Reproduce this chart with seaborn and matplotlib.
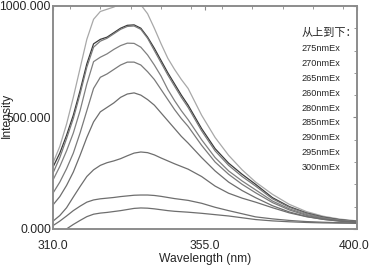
import matplotlib
matplotlib.use("Agg")
import matplotlib.pyplot as plt
import matplotlib.transforms as mtransforms
import seaborn as sns
import pandas as pd
import numpy as np
from matplotlib.ticker import MultipleLocator

# wavelength grid (nm)
wavelength = [310, 312, 314, 316, 318, 320, 322, 324, 326, 328, 330, 332,
              334, 336, 338, 340, 342, 344, 346, 348, 350, 354, 358, 362,
              366, 370, 375, 380, 385, 390, 395, 400]

# emission intensity for each excitation wavelength
ex275 = [296, 370, 470, 590, 720, 850, 940, 975, 985, 995, 1010, 1025,
         1025, 1005, 965, 900, 830, 765, 715, 670, 630, 510, 410, 330,
         265, 210, 155, 110, 78, 57, 44, 36]
ex270 = [278, 340, 420, 510, 620, 740, 830, 850, 860, 880, 900, 913,
         915, 900, 860, 810, 755, 700, 650, 600, 555, 450, 360, 295,
         245, 200, 140, 100, 72, 53, 41, 34]
ex265 = [251, 320, 405, 495, 605, 725, 815, 842, 855, 875, 895, 908,
         910, 895, 855, 800, 745, 690, 640, 590, 545, 440, 350, 285,
         235, 192, 135, 97, 70, 51, 40, 33]
ex260 = [220, 280, 350, 430, 530, 650, 750, 770, 785, 805, 822, 833,
         832, 815, 780, 735, 685, 625, 575, 530, 490, 400, 320, 260,
         215, 175, 125, 90, 65, 48, 38, 32]
ex280 = [161, 210, 270, 340, 430, 530, 630, 680, 695, 715, 735, 748,
         748, 735, 705, 670, 625, 580, 535, 495, 460, 375, 300, 245,
         200, 162, 118, 85, 61, 46, 37, 31]
ex285 = [108, 145, 195, 255, 330, 410, 480, 525, 545, 565, 590, 605,
         610, 600, 580, 555, 520, 485, 450, 415, 385, 320, 260, 210,
         172, 140, 104, 76, 56, 43, 35, 30]
ex290 = [35, 60, 95, 143, 190, 235, 265, 285, 297, 305, 315, 328,
         340, 345, 342, 332, 318, 305, 292, 280, 268, 235, 192, 160,
         138, 120, 95, 72, 55, 43, 35, 30]
ex295 = [15, 35, 58, 82, 102, 120, 130, 135, 138, 141, 145, 148,
         151, 152, 152, 150, 146, 141, 136, 132, 128, 115, 97, 82,
         68, 54, 45, 38, 33, 30, 28, 27]
ex300 = [np.nan, -15, 0, 20, 38, 55, 66, 71, 74, 78, 82, 87,
         92, 94, 93, 90, 86, 82, 79, 77, 75, 70, 64, 58,
         50, 42, 36, 32, 29, 27, 26, 25]

series = {"275nmEx": ex275, "270nmEx": ex270, "265nmEx": ex265,
          "260nmEx": ex260, "280nmEx": ex280, "285nmEx": ex285,
          "290nmEx": ex290, "295nmEx": ex295, "300nmEx": ex300}
order = list(series.keys())
colors = ["#a8a8a8", "#3a3a3a", "#7a7a7a", "#808080", "#7a7a7a",
          "#6e6e6e", "#6e6e6e", "#6e6e6e", "#6e6e6e"]

rows = []
for name, vals in series.items():
    for w, v in zip(wavelength, vals):
        rows.append({"Wavelength": w, "Intensity": v, "Ex": name})
df = pd.DataFrame(rows)

sns.set_style("white")
plt.rcParams['font.family'] = ['Liberation Sans', 'Noto Sans CJK SC', 'DejaVu Sans']

fig = plt.figure(figsize=(3.71, 2.69), dpi=100)
ax = fig.add_axes([0.143, 0.149, 0.819, 0.829])

sns.lineplot(data=df, x="Wavelength", y="Intensity", hue="Ex",
             hue_order=order, palette=colors, linewidth=0.9,
             legend=False, ax=ax)

ax.set_xlim(310, 400)
ax.set_ylim(0, 1000)
ax.set_xticks([310, 355, 400])
ax.set_xticklabels(["310.0", "355.0", "400.0"])
ax.set_yticks([0, 500, 1000])
ax.set_yticklabels(["0.000", "500.000", "1000.000"])
ax.xaxis.set_minor_locator(MultipleLocator(9))
ax.yaxis.set_minor_locator(MultipleLocator(100))
ax.tick_params(which="both", direction="in", top=True, right=True,
               color="#888888", labelsize=8.7, pad=1.5)
ax.tick_params(which="major", length=3, width=0.8)
ax.tick_params(which="minor", length=2, width=0.6)
ax.tick_params(axis="x", pad=8)
for sp in ax.spines.values():
    sp.set_color("#8c8c8c")
    sp.set_linewidth(1.4)

# nudge the last x label so it stays inside the canvas
shift = mtransforms.ScaledTranslation(-3 / 100, 0, fig.dpi_scale_trans)
lbl = ax.get_xticklabels()[-1]
lbl.set_transform(lbl.get_transform() + shift)

ax.set_xlabel("Wavelength (nm)", fontsize=8.7, labelpad=1)
ax.set_ylabel("Intensity", fontsize=8.7, va="center", ha="center")
ax.yaxis.set_label_coords(-0.151, 0.51)

ax.text(0.817, 0.878, "从上到下：", transform=ax.transAxes, fontsize=8,
        family=['Noto Sans CJK SC', 'DejaVu Sans'], va="center")
for i, name in enumerate(order):
    ax.text(0.817, 0.81 - i * 0.067, name, transform=ax.transAxes,
            fontsize=6.6, va="center")

fig.savefig("out.png", dpi=100)
